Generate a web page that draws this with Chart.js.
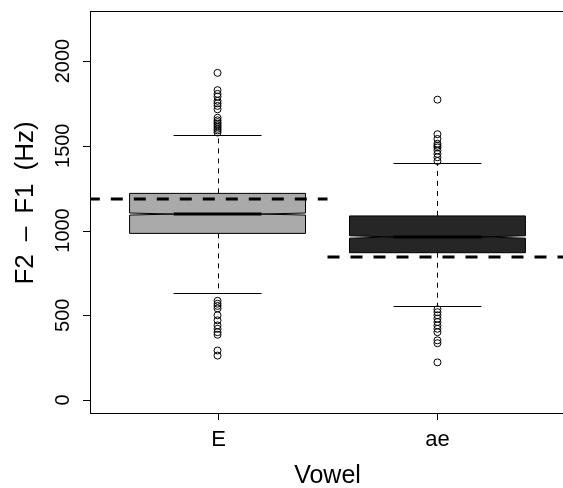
<!DOCTYPE html>
<html><head><meta charset="utf-8">
<script src="https://cdn.jsdelivr.net/npm/chart.js@4/dist/chart.umd.min.js"></script>
<style>html,body{margin:0;padding:0;overflow:hidden;background:#fff}#wrap{width:570px;height:488px}</style>
</head><body><div id="wrap"><canvas id="c" width="570" height="488"></canvas></div>
<script>
// ---- data ----
const categories = ['E', 'ae'];
const categoryPositions = [1, 2];
const q1 = [983, 869];
const medians = [1097, 962];
const q3 = [1219, 1086];
const whiskerLow = [631, 556];
const whiskerHigh = [1563, 1398];
const notchLow = [1091, 955];
const notchHigh = [1103, 969];
const outliersE = [1930, 1828, 1806, 1790, 1765, 1750, 1735, 1715, 1665, 1650, 1640, 1630, 1620, 1610, 1600, 1590, 1578,
                   585, 568, 555, 540, 500, 470, 440, 420, 400, 385, 292, 262];
const outliersAe = [1772, 1568, 1540, 1512, 1500, 1490, 1472, 1452, 1432, 1410,
                    535, 518, 500, 480, 460, 440, 420, 400, 352, 335, 222];
const referenceLevels = [1186, 844];
const referenceStart = [0.41, 1.5];
const referenceEnd = [1.5, 2.7];
const yTicks = [0, 500, 1000, 1500, 2000];
const yTitle = 'F2\u2002\u2013\u2002F1\u2002(Hz)';
const xTitle = 'Vowel';
const boxFills = ['#aaaaaa', '#262626'];

const FONT = '"Liberation Sans", Arial, Helvetica, sans-serif';

const boxPlugin = {
  id: 'boxes',
  beforeDatasetsDraw(chart) {
    const ctx = chart.ctx, xs = chart.scales.x, ys = chart.scales.y;
    ctx.save();
    const a = chart.chartArea;
    ctx.beginPath(); ctx.rect(a.left, a.top, a.right - a.left, a.bottom - a.top); ctx.clip();
    categories.forEach((c, i) => {
      const pos = categoryPositions[i];
      const xc = xs.getPixelForValue(pos);
      const xl = xs.getPixelForValue(pos - 0.4), xr = xs.getPixelForValue(pos + 0.4);
      const inset = (xr - xl) / 4;
      const yq1 = ys.getPixelForValue(q1[i]), yq3 = ys.getPixelForValue(q3[i]);
      const ym = ys.getPixelForValue(medians[i]);
      const ynl = ys.getPixelForValue(notchLow[i]), ynh = ys.getPixelForValue(notchHigh[i]);
      const ywl = ys.getPixelForValue(whiskerLow[i]), ywh = ys.getPixelForValue(whiskerHigh[i]);
      // whiskers
      ctx.strokeStyle = '#000'; ctx.lineWidth = 1; ctx.setLineDash([5, 5]);
      ctx.beginPath();
      ctx.moveTo(Math.round(xc) + 0.5, yq3); ctx.lineTo(Math.round(xc) + 0.5, ywh);
      ctx.moveTo(Math.round(xc) + 0.5, yq1); ctx.lineTo(Math.round(xc) + 0.5, ywl);
      ctx.stroke();
      ctx.setLineDash([]);
      const cl = xs.getPixelForValue(pos - 0.2), cr = xs.getPixelForValue(pos + 0.2);
      ctx.beginPath();
      ctx.moveTo(cl, Math.round(ywh) + 0.5); ctx.lineTo(cr, Math.round(ywh) + 0.5);
      ctx.moveTo(cl, Math.round(ywl) + 0.5); ctx.lineTo(cr, Math.round(ywl) + 0.5);
      ctx.stroke();
      // notched box
      ctx.beginPath();
      ctx.moveTo(xl, yq1); ctx.lineTo(xl, ynl); ctx.lineTo(xl + inset, ym); ctx.lineTo(xl, ynh);
      ctx.lineTo(xl, yq3); ctx.lineTo(xr, yq3); ctx.lineTo(xr, ynh); ctx.lineTo(xr - inset, ym);
      ctx.lineTo(xr, ynl); ctx.lineTo(xr, yq1); ctx.closePath();
      ctx.fillStyle = boxFills[i]; ctx.fill();
      ctx.lineWidth = 1; ctx.strokeStyle = '#000'; ctx.stroke();
      // median
      ctx.lineWidth = 3; ctx.beginPath();
      ctx.moveTo(xl + inset, ym); ctx.lineTo(xr - inset, ym); ctx.stroke();
    });
    ctx.restore();
  },
  afterDraw(chart) {
    const ctx = chart.ctx, xs = chart.scales.x, ys = chart.scales.y, a = chart.chartArea;
    ctx.save();
    ctx.strokeStyle = '#000'; ctx.lineWidth = 1; ctx.setLineDash([]);
    // frame
    ctx.strokeRect(Math.round(a.left) + 0.5, Math.round(a.top) + 0.5, a.right - a.left + 10, Math.round(a.bottom - a.top));
    // y axis ticks
    ctx.fillStyle = '#000';
    ctx.font = '20px ' + FONT;
    yTicks.forEach(v => {
      const y = Math.round(ys.getPixelForValue(v)) + 0.5;
      ctx.beginPath(); ctx.moveTo(a.left, y); ctx.lineTo(a.left - 7, y); ctx.stroke();
      ctx.save(); ctx.translate(69, ys.getPixelForValue(v)); ctx.rotate(-Math.PI / 2);
      ctx.textAlign = 'center'; ctx.textBaseline = 'alphabetic';
      ctx.fillText(String(v), 0, 0); ctx.restore();
    });
    // x axis
    const xb = Math.round(a.bottom) + 0.5;
    ctx.beginPath();
    ctx.moveTo(xs.getPixelForValue(categoryPositions[0]), xb);
    ctx.lineTo(xs.getPixelForValue(categoryPositions[categoryPositions.length - 1]), xb);
    ctx.stroke();
    ctx.font = '22px ' + FONT;
    ctx.textAlign = 'center'; ctx.textBaseline = 'alphabetic';
    categories.forEach((c, i) => {
      const x = Math.round(xs.getPixelForValue(categoryPositions[i])) + 0.5;
      ctx.beginPath(); ctx.moveTo(x, a.bottom); ctx.lineTo(x, a.bottom + 7); ctx.stroke();
      ctx.fillText(c, x, 446);
    });
    // titles
    ctx.font = '25px ' + FONT;
    ctx.fillText(xTitle, (a.left + a.right) / 2, 483);
    ctx.font = '26px ' + FONT;
    ctx.save(); ctx.translate(33, 203); ctx.rotate(-Math.PI / 2);
    ctx.fillText(yTitle, 0, 0); ctx.restore();
    ctx.restore();
  }
};

const outlierStyle = { pointRadius: 3.5, pointBorderWidth: 1, pointBorderColor: '#000', pointBackgroundColor: 'rgba(0,0,0,0)', showLine: false };

new Chart(document.getElementById('c'), {
  type: 'scatter',
  data: {
    datasets: [
      Object.assign({ data: outliersE.map(v => ({ x: categoryPositions[0], y: v })) }, outlierStyle),
      Object.assign({ data: outliersAe.map(v => ({ x: categoryPositions[1], y: v })) }, outlierStyle),
      ...referenceLevels.map((lvl, i) => ({
        data: [{ x: referenceStart[i], y: lvl }, { x: referenceEnd[i], y: lvl }],
        showLine: true, borderColor: '#000', borderWidth: 3, borderDash: [12, 11],
        borderCapStyle: 'butt', pointRadius: 0, fill: false
      }))
    ]
  },
  options: {
    responsive: false, animation: false, devicePixelRatio: 1,
    layout: { padding: { left: 90, top: 11, right: 5, bottom: 75 } },
    plugins: { legend: { display: false }, tooltip: { enabled: false } },
    scales: {
      x: { type: 'linear', display: false, min: 0.42, max: 2.58 },
      y: { type: 'linear', display: false, min: -76.7, max: 2295 }
    }
  },
  plugins: [boxPlugin]
});
</script></body></html>
